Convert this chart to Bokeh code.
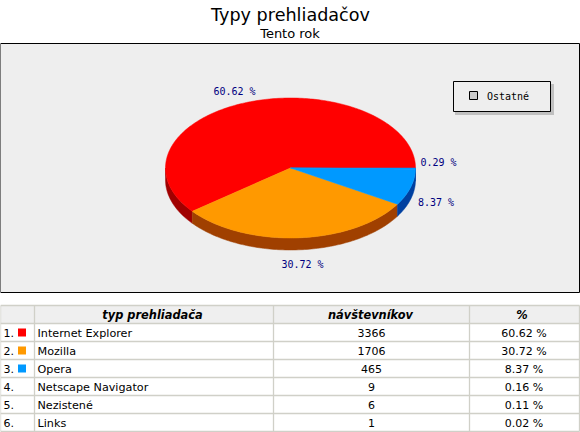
import math
from bokeh.plotting import figure
from bokeh.models import Range1d
from bokeh.core.properties import value
from bokeh.embed import file_html
from bokeh.resources import INLINE

title_text = "Typy prehliadačov"
subtitle_text = "Tento rok"

slice_names = ["Internet Explorer", "Mozilla", "Opera", "Ostatné"]
slice_percent = [60.62, 30.72, 8.37, 0.29]
slice_colors = ["#ff0000", "#ff9900", "#0099ff", "#0099ff"]
side_colors = ["#a00000", "#a04000", "#0040a0", "#0040a0"]
slice_labels = ["60.62 %", "30.72 %", "8.37 %", "0.29 %"]

legend_names = ["Ostatné"]
legend_color = "#cccccc"

headers = ["typ prehliadača", "návštevníkov", "%"]
row_numbers = ["1.", "2.", "3.", "4.", "5.", "6."]
row_names = ["Internet Explorer", "Mozilla", "Opera", "Netscape Navigator", "Nezistené", "Links"]
row_visits = [3366, 1706, 465, 9, 6, 1]
row_percent = ["60.62 %", "30.72 %", "8.37 %", "0.16 %", "0.11 %", "0.02 %"]
row_swatch = ["#ff0000", "#ff9900", "#0099ff", None, None, None]

W, H = 580, 432
p = figure(width=W, height=H, x_range=Range1d(0, W), y_range=Range1d(H, 0),
           output_backend="svg", toolbar_location=None, min_border=0,
           outline_line_color=None, background_fill_color="white",
           border_fill_color="white")
p.xaxis.visible = False
p.yaxis.visible = False
p.grid.visible = False

SANS = value("DejaVu Sans")
MONO = value("DejaVu Sans Mono")

def txt(x, y, s, size, color="black", align="left", font=SANS, style="normal"):
    p.text([x], [y], text=[s], text_font=font, text_font_size=f"{size}px",
           text_color=color, text_align=align, text_baseline="middle", text_font_style=style)

# titles
txt(290, 14, title_text, 17.6, align="center")
txt(289.5, 33, subtitle_text, 13, align="center")

# plot frame
p.quad(left=[0], right=[579], top=[43], bottom=[292],
       fill_color="#eeeeee", line_color="black", line_width=1)

# 3D pie
cx, cy, rx, ry, depth = 290.0, 167.5, 125.0, 70.0, 12.0

def pt(deg, dy=0.0):
    a = math.radians(deg)
    return cx + rx * math.cos(a), cy - ry * math.sin(a) + dy

bounds = [0.0]
for v in slice_percent:
    bounds.append(bounds[-1] + v * 3.6)

# side walls (only the lower half of the ellipse is visible)
for i, col in enumerate(side_colors):
    a0, a1 = max(bounds[i], 180.0), min(bounds[i + 1], 360.0)
    if a1 <= a0:
        continue
    n = max(2, int(a1 - a0) + 1)
    angs = [a0 + (a1 - a0) * k / (n - 1) for k in range(n)]
    xs = [pt(a)[0] for a in angs] + [pt(a, depth)[0] for a in reversed(angs)]
    ys = [pt(a)[1] for a in angs] + [pt(a, depth)[1] for a in reversed(angs)]
    p.patch(xs, ys, fill_color=col, line_color=col, line_width=0.5)

# top faces
for i, col in enumerate(slice_colors):
    a0, a1 = bounds[i], bounds[i + 1]
    n = max(2, int(a1 - a0) + 2)
    angs = [a0 + (a1 - a0) * k / (n - 1) for k in range(n)]
    xs = [cx] + [pt(a)[0] for a in angs]
    ys = [cy] + [pt(a)[1] for a in angs]
    p.patch(xs, ys, fill_color=col, line_color=col, line_width=0.5)

# slice labels
NAVY = "#000080"
label_pos = [(234, 91), (302, 264), (435.5, 202), (438, 161.5)]
for s, (x, y) in zip(slice_labels, label_pos):
    txt(x, y, s, 10, color=NAVY, align="center", font=MONO)

# legend
p.quad(left=[454.5], right=[553.5], top=[83.5], bottom=[114.5], fill_color="#c0c0c0", line_color=None)
p.quad(left=[453], right=[550], top=[81], bottom=[111],
       fill_color="#eeeeee", line_color="black", line_width=1)
p.quad(left=[469], right=[477], top=[91], bottom=[99],
       fill_color=legend_color, line_color="black", line_width=1)
txt(486.5, 96, legend_names[0], 10, font=MONO)

# table
GRID = "#d0d0c8"
col_x = [0, 34, 273, 469, 579]
row_y = [305] + [323 + 18 * k for k in range(7)]
p.quad(left=[col_x[0]], right=[col_x[-1]], top=[row_y[0]], bottom=[row_y[1]],
       fill_color="#efefef", line_color=None)
p.multi_line([[x, x] for x in col_x], [[row_y[0], row_y[-1]] for _ in col_x],
             line_color=GRID, line_width=1.3)
p.multi_line([[col_x[0], col_x[-1]] for _ in row_y], [[y, y] for y in row_y],
             line_color=GRID, line_width=1.3)

hdr_y = (row_y[0] + row_y[1]) / 2 + 0.5
hdr_shift = [-1.5, -1, -2.5]
for h, c0, c1, ds in zip(headers, col_x[1:], col_x[2:], hdr_shift):
    txt((c0 + c1) / 2 + ds, hdr_y, h, 11.4, align="center", style="bold italic")

for i, (num, name, vis, pct, sw) in enumerate(zip(row_numbers, row_names, row_visits, row_percent, row_swatch)):
    y = (row_y[i + 1] + row_y[i + 2]) / 2 + 0.5
    txt(3, y, num, 11)
    if sw:
        p.quad(left=[17.5], right=[25.5], top=[y - 4.5], bottom=[y + 3.5], fill_color=sw, line_color=None)
    txt(37, y, name, 11.2)
    txt((col_x[2] + col_x[3]) / 2, y, str(vis), 11, align="center")
    txt((col_x[3] + col_x[4]) / 2 - 0.5, y, pct, 11, align="center")

open("out.html", "w").write(file_html(p, INLINE))
